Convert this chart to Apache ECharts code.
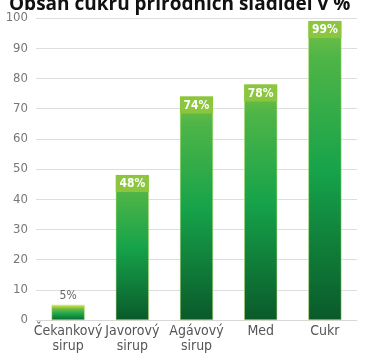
<!DOCTYPE html>
<html><head><meta charset="utf-8">
<script src="https://cdn.jsdelivr.net/npm/echarts@6/dist/echarts.min.js"></script>
<style>html,body{margin:0;padding:0;background:#fff}#c{width:365px;height:361px}</style>
</head><body><div id="c"></div>
<script>
const titleText = 'Obsah cukru přírodních sladidel v %';
const categories = ['Čekankový\nsirup', 'Javorový\nsirup', 'Agávový\nsirup', 'Med', 'Cukr'];
const sugarPercent = [5, 48, 74, 78, 99];
const yTicks = [0, 10, 20, 30, 40, 50, 60, 70, 80, 90, 100];

const font = '"Liberation Sans Narrow", "DejaVu Sans Condensed", "Roboto", sans-serif';
const grad = new echarts.graphic.LinearGradient(0, 0, 0, 1, [
  {offset: 0, color: '#7cc242'},
  {offset: 0.12, color: '#4fb547'},
  {offset: 0.5, color: '#16a34a'},
  {offset: 1, color: '#0a5a2a'}
]);
const gradSmall = new echarts.graphic.LinearGradient(0, 0, 0, 1, [
  {offset: 0, color: '#e8e63a'},
  {offset: 0.25, color: '#6fbd45'},
  {offset: 0.6, color: '#1aa54b'},
  {offset: 1, color: '#0b6a30'}
]);
const data = sugarPercent.map((v, i) => {
  if (v < 10) {
    return {value: v, itemStyle: {color: gradSmall},
      label: {position: 'top', distance: 1, color: '#666', backgroundColor: 'transparent', fontWeight: 'normal'}};
  }
  return {value: v};
});
const chart = echarts.init(document.getElementById('c'));
chart.setOption({
  animation: false,
  title: {text: titleText, left: 4, top: -10, textStyle: {fontFamily: '"Open Sans", sans-serif', fontWeight: 'bold', fontSize: 19, color: '#111'}},
  grid: {left: 36, right: 8, top: 18, bottom: 41},
  xAxis: {type: 'category', data: categories,
    axisLine: {show: true, lineStyle: {color: '#d8d8d8'}}, axisTick: {show: false},
    axisLabel: {color: '#555', fontSize: 14, lineHeight: 15, margin: 4, fontFamily: font, interval: 0}},
  yAxis: {type: 'value', min: 0, max: 100, interval: 10,
    axisLine: {show: false}, axisTick: {show: false},
    splitLine: {lineStyle: {color: '#dedede'}},
    axisLabel: {color: '#777', fontSize: 13, margin: 8, fontFamily: font,
      formatter: v => yTicks.includes(v) ? String(v) : ''}},
  series: [{type: 'bar', data: data, barWidth: 33,
    itemStyle: {color: grad, borderColor: '#b9dc6a', borderWidth: 0.5},
    label: {show: true, position: 'insideTop', distance: 0, formatter: '{c}%',
      color: '#fff', fontWeight: 'bold', fontSize: 12, fontFamily: font,
      backgroundColor: '#8cc63f', width: 33, align: 'center', padding: [3, 0, 2, 0]}}]
});
</script></body></html>
